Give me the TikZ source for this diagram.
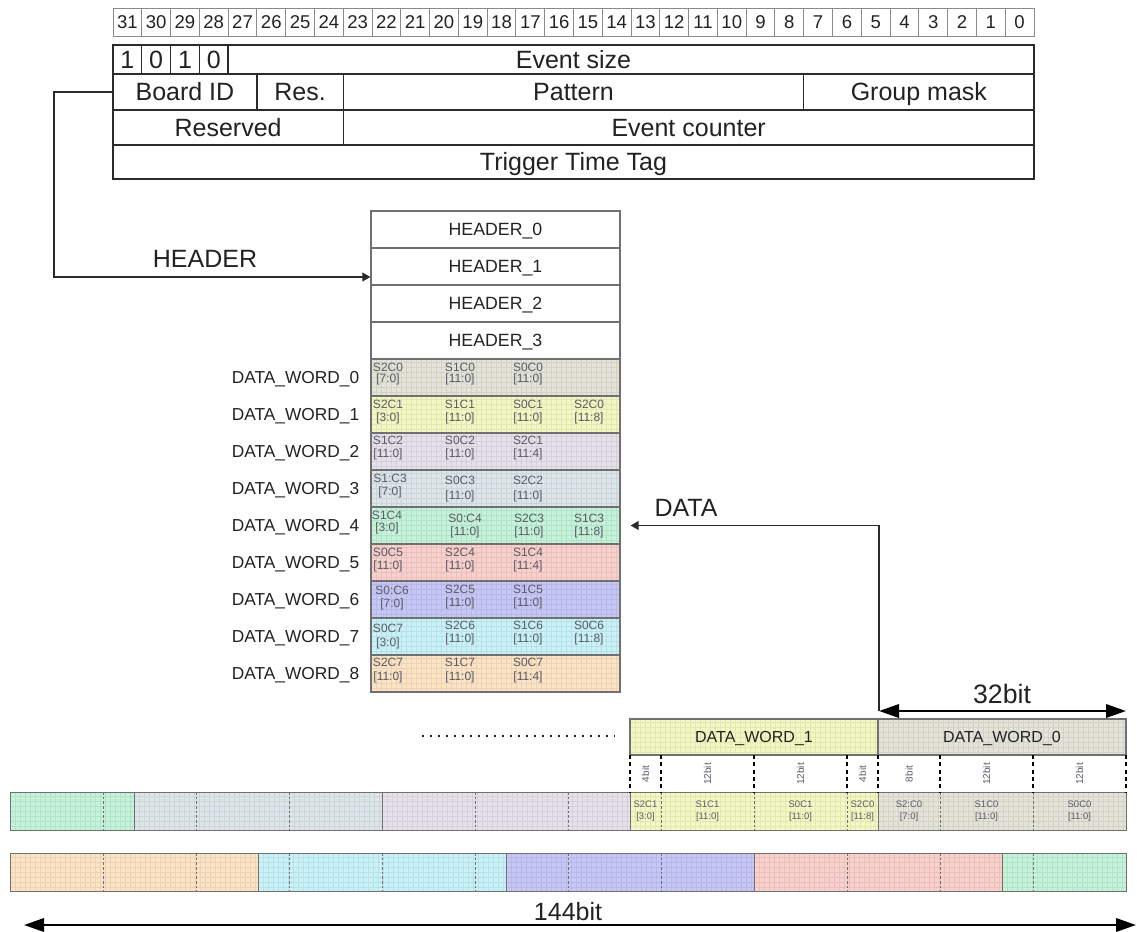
\documentclass[tikz,border=0pt]{standalone}
\usepackage{fontspec}
\setmainfont{Liberation Sans}
\usetikzlibrary{arrows.meta,fit,calc}
\definecolor{cwa}{HTML}{E3E3D8}
\definecolor{cwb}{HTML}{F3F8C3}
\definecolor{cwc}{HTML}{E5E0EA}
\definecolor{cwd}{HTML}{DCE5E9}
\definecolor{cwe}{HTML}{C3F3D8}
\definecolor{cwf}{HTML}{F9D0CC}
\definecolor{cwg}{HTML}{C6C7F6}
\definecolor{cwh}{HTML}{C8F2F8}
\definecolor{cwi}{HTML}{FBE3C4}
\definecolor{txtdark}{HTML}{222222}
\definecolor{celltext}{HTML}{5A5A66}
\definecolor{linek}{HTML}{2A2A2A}
\definecolor{bitgray}{HTML}{8A8A8A}
\definecolor{boxgray}{HTML}{707070}
% box with centred text: style, name, x1, y1, x2, y2, text
\newcommand\tbox[7]{%
  \node[#1, fit={(#3,#4)(#5,#6)}] (#2) {};
  \node[#1txt] (#2t) at (#2.center) {#7};}
\newcommand\cp[6]{%
  \node[celltxt] (#1a) at (#2,#3) {#5};
  \node[celltxt] (#1b) at (#2,#4) {#6};}
\newcommand\bp[5]{%
  \node[bartxt] (#1a) at (#2,#3) {#4};
  \node[bartxt] (#1b) at ($(#2,#3)+(0,12)$) {#5};}
\begin{document}
\begin{tikzpicture}[x=0.75pt,y=-0.75pt,
  texture/.style={path picture={\draw[step=3.75pt, black, opacity=0.07, line width=0.3pt] (path picture bounding box.south west) grid (path picture bounding box.north east);}},
  bitcell/.style={draw=bitgray, line width=0.7pt, inner sep=0pt},
  bitcelltxt/.style={inner sep=0pt, font=\fontsize{13.9pt}{16pt}\selectfont, text=txtdark, text height=10pt, text depth=0pt},
  tabcell/.style={draw=linek, line width=1pt, inner sep=0pt, fill=white},
  tabcelltxt/.style={inner sep=0pt, font=\fontsize{18.75pt}{22pt}\selectfont, text=txtdark, text height=13.4pt, text depth=0pt},
  hdbox/.style={draw=boxgray, line width=0.8pt, inner sep=0pt},
  hdboxtxt/.style={inner sep=0pt, font=\fontsize{13.3pt}{15pt}\selectfont, text=txtdark, text height=9.5pt, text depth=0pt},
  dwbox/.style={draw=boxgray, line width=0.8pt, inner sep=0pt, fill=#1, texture},
  barbox/.style={draw=boxgray, line width=0.6pt, inner sep=0pt, fill=#1, texture},
  lblboxa/.style={draw=boxgray, line width=0.8pt, inner sep=0pt, fill=cwb, texture},
  lblboxb/.style={draw=boxgray, line width=0.8pt, inner sep=0pt, fill=cwa, texture},
  lblboxatxt/.style={inner sep=0pt, font=\fontsize{12pt}{14pt}\selectfont, text=txtdark, text height=8.6pt, text depth=0pt},
  lblboxbtxt/.style={lblboxatxt},
  dwlabel/.style={inner sep=0pt, font=\fontsize{13pt}{15pt}\selectfont, text=txtdark, text height=9.3pt, text depth=0pt, anchor=east},
  celltxt/.style={inner sep=0pt, font=\fontsize{9pt}{10pt}\selectfont, text=celltext, text height=6.4pt, text depth=0pt},
  bartxt/.style={inner sep=0pt, font=\fontsize{7.1pt}{8pt}\selectfont, text=celltext, text height=5.1pt, text depth=0pt},
  bitlbl/.style={inner sep=0pt, font=\fontsize{7.5pt}{8pt}\selectfont, text=celltext, rotate=90},
  biglabel/.style={inner sep=0pt, font=\fontsize{18.75pt}{22pt}\selectfont, text=txtdark, text height=13.4pt, text depth=0pt},
  conn/.style={draw=linek, line width=1.1pt, -{Triangle[length=6pt,width=6.5pt]}},
  bigarrow/.style={draw=black, line width=1.8pt, {Triangle[length=15pt,width=10pt]}-{Triangle[length=15pt,width=10pt]}},
  fielddiv/.style={draw=boxgray, line width=0.6pt, dash pattern=on 2pt off 1.5pt},
  banddiv/.style={draw=black, line width=1.1pt, dash pattern=on 3pt off 2.5pt},
  dotline/.style={draw=txtdark, line width=1.5pt, dash pattern=on 1.5pt off 4.5pt}
]
\useasboundingbox (0,0) rectangle (1137,931);

% ---- bit numbers row
\foreach \i in {0,...,31}{
  \pgfmathsetmacro\xa{113+\i*28.78}
  \pgfmathsetmacro\xb{113+(\i+1)*28.78}
  \pgfmathtruncatemacro\bn{31-\i}
  \tbox{bitcell}{bit\bn}{\xa}{8}{\xb}{36}{\bn}
}

% ---- header word table
\tbox{tabcell}{evsize}{113}{45}{1034}{74}{Event size}
\tbox{tabcell}{fa}{113}{45}{141.78}{74}{1}
\tbox{tabcell}{fb}{141.78}{45}{170.56}{74}{0}
\tbox{tabcell}{fc}{170.56}{45}{199.34}{74}{1}
\tbox{tabcell}{fd}{199.34}{45}{228.12}{74}{0}
\tbox{tabcell}{boardid}{113}{74}{256.9}{110}{Board ID}
\tbox{tabcell}{res}{256.9}{74}{343.24}{110}{Res.}
\tbox{tabcell}{pattern}{343.24}{74}{803.72}{110}{Pattern}
\tbox{tabcell}{gmask}{803.72}{74}{1034}{110}{Group mask}
\tbox{tabcell}{reserved}{113}{110}{343.24}{145}{Reserved}
\tbox{tabcell}{evcnt}{343.24}{110}{1034}{145}{Event counter}
\tbox{tabcell}{ttt}{113}{145}{1034}{179}{Trigger Time Tag}

% ---- header stack
\tbox{hdbox}{h0}{371}{211}{620}{248}{HEADER\_0}
\tbox{hdbox}{h1}{371}{248}{620}{285}{HEADER\_1}
\tbox{hdbox}{h2}{371}{285}{620}{322}{HEADER\_2}
\tbox{hdbox}{h3}{371}{322}{620}{359}{HEADER\_3}

% ---- data word stack
\node[dwbox=cwa, fit={(371,359)(620,396)}] (dw0) {};
\node[dwbox=cwb, fit={(371,396)(620,433)}] (dw1) {};
\node[dwbox=cwc, fit={(371,433)(620,470)}] (dw2) {};
\node[dwbox=cwd, fit={(371,470)(620,507)}] (dw3) {};
\node[dwbox=cwe, fit={(371,507)(620,544)}] (dw4) {};
\node[dwbox=cwf, fit={(371,544)(620,581)}] (dw5) {};
\node[dwbox=cwg, fit={(371,581)(620,618)}] (dw6) {};
\node[dwbox=cwh, fit={(371,618)(620,655)}] (dw7) {};
\node[dwbox=cwi, fit={(371,655)(620,692)}] (dw8) {};
\foreach \k in {0,...,8}{
  \node[dwlabel] (lbl\k) at ($(dw\k.west)+(-11,0)$) {DATA\_WORD\_\k};
}

% cell texts
\cp{a0}{388}{367}{378}{S2C0}{[7:0]}
\cp{a1}{460}{367}{378}{S1C0}{[11:0]}
\cp{a2}{528}{367}{378}{S0C0}{[11:0]}
\cp{b0}{388}{404}{417}{S2C1}{[3:0]}
\cp{b1}{460}{404}{417}{S1C1}{[11:0]}
\cp{b2}{528}{404}{417}{S0C1}{[11:0]}
\cp{b3}{589}{404}{417}{S2C0}{[11:8]}
\cp{c0}{388}{440}{453}{S1C2}{[11:0]}
\cp{c1}{460}{440}{453}{S0C2}{[11:0]}
\cp{c2}{528}{440}{453}{S2C1}{[11:4]}
\cp{d0}{390}{478}{491}{S1:C3}{[7:0]}
\cp{d1}{460}{480}{495}{S0C3}{[11:0]}
\cp{d2}{528}{480}{495}{S2C2}{[11:0]}
\cp{e0}{387}{515}{527}{S1C4}{[3:0]}
\cp{e1}{465}{518}{531}{S0:C4}{[11:0]}
\cp{e2}{529}{518}{531}{S2C3}{[11:0]}
\cp{e3}{589}{518}{531}{S1C3}{[11:8]}
\cp{f0}{388}{552}{565}{S0C5}{[11:0]}
\cp{f1}{460}{552}{565}{S2C4}{[11:0]}
\cp{f2}{528}{552}{565}{S1C4}{[11:4]}
\cp{g0}{392}{590}{603}{S0:C6}{[7:0]}
\cp{g1}{460}{589}{602}{S2C5}{[11:0]}
\cp{g2}{528}{589}{602}{S1C5}{[11:0]}
\cp{h0}{388}{628}{642}{S0C7}{[3:0]}
\cp{h1}{460}{625}{638}{S2C6}{[11:0]}
\cp{h2}{528}{625}{638}{S1C6}{[11:0]}
\cp{h3}{589}{625}{638}{S0C6}{[11:8]}
\cp{i0}{388}{662}{676}{S2C7}{[11:0]}
\cp{i1}{460}{662}{676}{S1C7}{[11:0]}
\cp{i2}{528}{662}{676}{S0C7}{[11:4]}

% ---- HEADER connector
\coordinate (hcorner) at (54,277);
\draw[conn] (boardid.west) -| (hcorner) -- (hcorner -| h1.west);
\node[biglabel] (hdrlbl) at (205,259) {HEADER};

% ---- DATA connector and 32bit arrow
\coordinate (a32l) at (879,711);
\coordinate (a32r) at (1126,711);
\draw[conn, shorten >=7.5pt] (a32l) |- (dw4.east);
\node[biglabel] (datalbl) at (686,508) {DATA};
\draw[bigarrow] (a32l) -- (a32r);
\node[biglabel, font=\fontsize{20pt}{22pt}\selectfont, text height=14.3pt] (lbl32) at (1002,694) {32bit};

% ---- word label boxes
\tbox{lblboxa}{wl1}{630}{719}{878}{755}{DATA\_WORD\_1}
\tbox{lblboxb}{wl0}{878}{719}{1126}{755}{DATA\_WORD\_0}
\coordinate (dotl) at (422,736);
\coordinate (dotr) at (615,736);
\draw[dotline] (dotl) -- (dotr);

% ---- bars
\node[barbox=cwe, fit={(10,792)(134,830)}] (ra4) {};
\node[barbox=cwd, fit={(134,792)(382,830)}] (ra3) {};
\node[barbox=cwc, fit={(382,792)(630,830)}] (ra2) {};
\node[barbox=cwb, fit={(630,792)(878,830)}] (ra1) {};
\node[barbox=cwa, fit={(878,792)(1126,830)}] (ra0) {};
\node[barbox=cwi, fit={(10,853)(258,891)}] (rb8) {};
\node[barbox=cwh, fit={(258,853)(506,891)}] (rb7) {};
\node[barbox=cwg, fit={(506,853)(754,891)}] (rb6) {};
\node[barbox=cwf, fit={(754,853)(1002,891)}] (rb5) {};
\node[barbox=cwe, fit={(1002,853)(1126,891)}] (rb4) {};
\foreach \x in {103,196,289,475,568,661,754,847,940,1033}
  \draw[fielddiv] (\x,792) -- (\x,830);
\foreach \x in {103,196,289,382,475,568,661,847,940,1033}
  \draw[fielddiv] (\x,853) -- (\x,891);
\foreach \x in {630,661,754,847,878,940,1033,1126}
  \draw[banddiv] (\x,755) -- (\x,792);

% rotated bit widths
\node[bitlbl] (wa) at (645.5,774) {4bit};
\node[bitlbl] (wb) at (707.5,774) {12bit};
\node[bitlbl] (wc) at (800.5,774) {12bit};
\node[bitlbl] (wd) at (862.5,774) {4bit};
\node[bitlbl] (we) at (909,774) {8bit};
\node[bitlbl] (wf) at (986.5,774) {12bit};
\node[bitlbl] (wg) at (1079.5,774) {12bit};

% bar texts
\bp{ba}{645.5}{804}{S2C1}{[3:0]}
\bp{bb}{707.5}{804}{S1C1}{[11:0]}
\bp{bc}{800.5}{804}{S0C1}{[11:0]}
\bp{bd}{862.5}{804}{S2C0}{[11:8]}
\bp{be}{909}{804}{S2:C0}{[7:0]}
\bp{bf}{986.5}{804}{S1C0}{[11:0]}
\bp{bg}{1079.5}{804}{S0C0}{[11:0]}

% ---- 144bit arrow
\coordinate (a144l) at (24,925);
\coordinate (a144r) at (1136,925);
\draw[bigarrow] (a144l) -- (a144r);
\node[biglabel] (lbl144) at (568,912) {144bit};
\end{tikzpicture}
\end{document}
